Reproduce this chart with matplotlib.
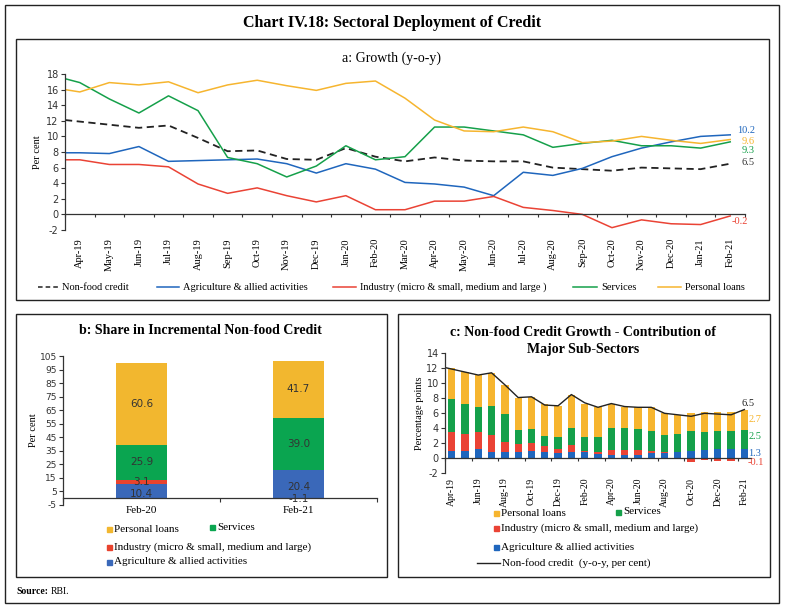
import numpy as np
import matplotlib
matplotlib.use('Agg')
import matplotlib.pyplot as plt
from matplotlib.patches import Rectangle
from matplotlib.lines import Line2D

# ---- data ----
months = ['Apr-19', 'May-19', 'Jun-19', 'Jul-19', 'Aug-19', 'Sep-19', 'Oct-19', 'Nov-19',
          'Dec-19', 'Jan-20', 'Feb-20', 'Mar-20', 'Apr-20', 'May-20', 'Jun-20', 'Jul-20',
          'Aug-20', 'Sep-20', 'Oct-20', 'Nov-20', 'Dec-20', 'Jan-21', 'Feb-21']

# panel a: y-o-y growth (first value sits on the axis edge, then one per month)
nonfood_start = 12.1
nonfood = [11.9, 11.5, 11.1, 11.4, 9.8, 8.1, 8.2, 7.1, 7.0, 8.5, 7.4, 6.8,
           7.3, 6.9, 6.8, 6.8, 6.0, 5.8, 5.6, 6.0, 5.9, 5.8, 6.5]
agri_start = 7.9
agri = [7.9, 7.8, 8.7, 6.8, 6.9, 7.0, 7.1, 6.5, 5.3, 6.5, 5.8, 4.1,
        3.9, 3.5, 2.4, 5.4, 5.0, 5.9, 7.4, 8.5, 9.3, 10.0, 10.2]
industry_start = 7.0
industry = [7.0, 6.4, 6.4, 6.1, 3.9, 2.7, 3.4, 2.4, 1.6, 2.4, 0.6, 0.6,
            1.7, 1.7, 2.3, 0.9, 0.5, 0.0, -1.7, -0.7, -1.2, -1.3, -0.2]
services_start = 17.4
services = [16.9, 14.8, 13.0, 15.2, 13.3, 7.3, 6.5, 4.8, 6.2, 8.8, 7.0, 7.4,
            11.2, 11.2, 10.7, 10.2, 8.6, 9.1, 9.5, 8.8, 8.8, 8.5, 9.3]
personal_start = 16.0
personal = [15.7, 16.9, 16.6, 17.0, 15.6, 16.6, 17.2, 16.5, 15.9, 16.8, 17.1, 14.9,
            12.1, 10.7, 10.6, 11.2, 10.6, 9.2, 9.4, 10.0, 9.5, 9.1, 9.6]

# panel b: share in incremental non-food credit
b_cats = ['Feb-20', 'Feb-21']
b_agri = [10.4, 20.4]
b_ind = [3.1, -1.1]
b_serv = [25.9, 39.0]
b_pers = [60.6, 41.7]

# panel c: contribution to non-food credit growth
c_agri = [1.0, 1.0, 1.2, 0.9, 0.9, 0.9, 1.0, 0.8, 0.7, 0.8, 0.8, 0.6,
          0.5, 0.5, 0.4, 0.7, 0.65, 0.8, 1.0, 1.1, 1.2, 1.3, 1.3]
c_ind = [2.5, 2.3, 2.3, 2.2, 1.3, 1.0, 1.1, 0.8, 0.5, 1.0, 0.2, 0.2,
         0.6, 0.6, 0.7, 0.3, 0.2, 0.0, -0.5, -0.2, -0.3, -0.3, -0.1]
c_serv = [4.4, 3.9, 3.3, 3.9, 3.7, 1.9, 1.8, 1.4, 1.7, 2.3, 1.9, 2.1,
          3.0, 2.9, 2.8, 2.7, 2.25, 2.5, 2.6, 2.4, 2.4, 2.3, 2.5]
c_pers = [4.1, 4.3, 4.3, 4.4, 3.9, 4.3, 4.3, 4.2, 4.1, 4.4, 4.4, 3.9,
          3.2, 2.9, 2.9, 3.1, 2.9, 2.5, 2.5, 2.7, 2.6, 2.6, 2.7]

# ---- style ----
SERIF = 'Liberation Serif'
SANS = 'DejaVu Sans'
C_BLUE = '#1f66bd'
C_RED = '#ea4335'
C_GREEN = '#15a04a'
C_YELLOW = '#f6b52f'
B_BLUE = '#3a68b9'
B_RED = '#e8432e'
B_GREEN = '#0aa550'
B_YELLOW = '#f2b72f'
plt.rcParams['font.family'] = SERIF
plt.rcParams['axes.unicode_minus'] = False

W, H = 785, 608
fig = plt.figure(figsize=(W / 100, H / 100), dpi=100)


def fx(px):
    return px / W


def fy(py):
    return 1 - py / H


def box(x0, y0, x1, y1, lw=1.0):
    fig.patches.append(Rectangle((fx(x0), fy(y1)), fx(x1) - fx(x0), fy(y0) - fy(y1),
                                 transform=fig.transFigure, fill=False,
                                 edgecolor='#222222', linewidth=lw))


def style_axes(ax, ytick_font=7):
    for s in ['top', 'right']:
        ax.spines[s].set_visible(False)
    ax.spines['bottom'].set_position(('data', 0))
    for s in ['left', 'bottom']:
        ax.spines[s].set_color('#333333')
        ax.spines[s].set_linewidth(0.9)
    ax.tick_params(axis='y', direction='out', length=3, width=0.8, colors='#333333',
                   labelsize=ytick_font, pad=1.5)
    for t in ax.get_yticklabels():
        t.set_fontfamily(SANS)


def fig_line(x0, x1, y, **kw):
    fig.lines.append(Line2D([fx(x0), fx(x1)], [fy(y), fy(y)], transform=fig.transFigure, **kw))


# frames
box(5, 5, 779, 603)
box(16, 39, 769, 300)
box(16, 314, 387, 577)
box(398, 314, 770, 577)

fig.text(fx(392), fy(23), 'Chart IV.18: Sectoral Deployment of Credit', ha='center', va='center',
         fontsize=11.5, fontweight='bold')
fig.text(fx(16), fy(591), 'Source:', ha='left', va='center', fontsize=7, fontweight='bold')
fig.text(fx(51), fy(591), 'RBI.', ha='left', va='center', fontsize=7)

# ---- panel a ----
ax = fig.add_axes([fx(65), fy(230), fx(745) - fx(65), fy(74) - fy(230)])
x = np.arange(len(months))
xs = np.concatenate([[-0.5], x])
ax.plot(xs, [nonfood_start] + nonfood, color='#222222', lw=1.3, ls=(0, (4, 2.5)))
ax.plot(xs, [agri_start] + agri, color=C_BLUE, lw=1.1)
ax.plot(xs, [industry_start] + industry, color=C_RED, lw=1.1)
ax.plot(xs, [services_start] + services, color=C_GREEN, lw=1.1)
ax.plot(xs, [personal_start] + personal, color=C_YELLOW, lw=1.1)
ax.set_xlim(-0.5, len(months) - 0.5)
ax.set_ylim(-2, 18)
ax.set_yticks(np.arange(-2, 19, 2))
style_axes(ax)
ax.set_xticks(np.arange(-0.5, len(months), 1))
ax.set_xticklabels([])
ax.set_xticks(x, minor=True)
ax.set_xticklabels(months, minor=True, rotation=90, fontsize=7.5)
ax.tick_params(axis='x', which='major', direction='out', length=2.5, width=0.8, color='#333333')
ax.tick_params(axis='x', which='minor', length=0, pad=17)
ax.set_ylabel('Per cent', fontsize=7.5, labelpad=3)
fig.text(fx(392), fy(58), 'a: Growth (y-o-y)', ha='center', va='center', fontsize=10)

end_labels = [(agri[-1], C_BLUE, 0.5, 5), (personal[-1], C_YELLOW, -0.2, 8),
              (services[-1], C_GREEN, -1.1, 8), (nonfood[-1], '#333333', 0.1, 8),
              (industry[-1], C_RED, -0.75, 1)]
for val, col, dy, dx in end_labels:
    ax.annotate(f'{val:.1f}', (len(months) - 1, val + dy), xytext=(dx, 0), textcoords='offset points',
                color=col, fontsize=7.5, va='center', ha='left', annotation_clip=False)

# legend a
leg_a = [(38, 58, dict(color='#222222', lw=1.1, ls=(0, (3, 2))), 'Non-food credit'),
         (157, 179, dict(color=C_BLUE, lw=1.1), 'Agriculture & allied activities'),
         (333, 356, dict(color=C_RED, lw=1.1), 'Industry (micro & small, medium and large )'),
         (573, 597, dict(color=C_GREEN, lw=1.1), 'Services'),
         (658, 681, dict(color=C_YELLOW, lw=1.1), 'Personal loans')]
for x0, x1, kw, label in leg_a:
    fig_line(x0, x1, 287, **kw)
    fig.text(fx(x1 + 4), fy(287), label, ha='left', va='center', fontsize=7.5)

# ---- panel b ----
axb = fig.add_axes([fx(63), fy(504.7), fx(377) - fx(63), fy(356) - fy(504.7)])
bx = np.arange(len(b_cats))
bw = 0.325
b_ind_pos = np.clip(b_ind, 0, None)
b_ind_neg = np.clip(b_ind, None, 0)
axb.bar(bx, b_agri, bw, color=B_BLUE)
axb.bar(bx, b_ind_pos, bw, bottom=b_agri, color=B_RED)
axb.bar(bx, b_ind_neg, bw, color=B_RED)
b_serv_bot = np.array(b_agri) + b_ind_pos
axb.bar(bx, b_serv, bw, bottom=b_serv_bot, color=B_GREEN)
b_pers_bot = b_serv_bot + np.array(b_serv)
axb.bar(bx, b_pers, bw, bottom=b_pers_bot, color=B_YELLOW)
for i in range(len(b_cats)):
    ys = [(b_agri[i] / 2 - 2, b_agri[i]),
          ((b_agri[i] + b_ind_pos[i] / 2) if b_ind[i] > 0 else b_ind[i] / 2, b_ind[i]),
          (b_serv_bot[i] + b_serv[i] / 2, b_serv[i]),
          (b_pers_bot[i] + b_pers[i] / 2, b_pers[i])]
    for yv, val in ys:
        axb.text(bx[i], yv, f'{val:.1f}', ha='center', va='center', fontsize=7.5,
                 color='#333333', family=SANS)
axb.set_xlim(-0.5, 1.5)
axb.set_ylim(-5, 105)
axb.set_yticks(np.arange(-5, 106, 10))
style_axes(axb, ytick_font=6.5)
axb.set_xticks([-0.5, 0.5, 1.5])
axb.set_xticklabels([])
axb.set_xticks(bx, minor=True)
axb.set_xticklabels(b_cats, minor=True, fontsize=8)
axb.tick_params(axis='x', which='major', direction='out', length=3, width=0.8, color='#333333')
axb.tick_params(axis='x', which='minor', length=0, pad=6)
axb.set_ylabel('Per cent', fontsize=7.5, labelpad=1)
fig.text(fx(200), fy(331), 'b: Share in Incremental Non-food Credit', ha='center', va='center',
         fontsize=10, fontweight='bold')


def sq_legend(items, size=5):
    for px, py, col, label in items:
        fig.patches.append(Rectangle((fx(px), fy(py + size / 2)), size / W, size / H,
                                     transform=fig.transFigure, color=col))
        fig.text(fx(px + size + 2), fy(py), label, ha='left', va='center', fontsize=8)


sq_legend([(107, 529, B_YELLOW, 'Personal loans'),
           (210, 527, B_GREEN, 'Services'),
           (107, 547, B_RED, 'Industry (micro & small, medium and large)'),
           (107, 562, B_BLUE, 'Agriculture & allied activities')])

# ---- panel c ----
axc = fig.add_axes([fx(445), fy(473.3), fx(751) - fx(445), fy(353.3) - fy(473.3)])
cw = 0.55
c_ind_pos = np.clip(c_ind, 0, None)
c_ind_neg = np.clip(c_ind, None, 0)
axc.bar(x, c_agri, cw, color=C_BLUE)
axc.bar(x, c_ind_pos, cw, bottom=c_agri, color=C_RED)
axc.bar(x, c_ind_neg, cw, color=C_RED)
c_serv_bot = np.array(c_agri) + c_ind_pos
axc.bar(x, c_serv, cw, bottom=c_serv_bot, color=C_GREEN)
c_pers_bot = c_serv_bot + np.array(c_serv)
axc.bar(x, c_pers, cw, bottom=c_pers_bot, color=C_YELLOW)
axc.plot(xs, [nonfood_start] + nonfood, color='#222222', lw=1.0)
axc.set_xlim(-0.5, len(months) - 0.5)
axc.set_ylim(-2, 14)
axc.set_yticks(np.arange(-2, 15, 2))
style_axes(axc, ytick_font=7)
axc.set_xticks(np.arange(-0.5, len(months), 2))
axc.set_xticklabels([])
axc.set_xticks(x[::2], minor=True)
axc.set_xticklabels(months[::2], minor=True, rotation=90, fontsize=7)
axc.tick_params(axis='x', which='major', direction='out', length=2.5, width=0.8, color='#333333')
axc.tick_params(axis='x', which='minor', length=0, pad=14)
axc.set_ylabel('Percentage points', fontsize=7.5, labelpad=2)
fig.text(fx(583), fy(332), 'c: Non-food Credit Growth - Contribution of', ha='center', va='center',
         fontsize=10, fontweight='bold')
fig.text(fx(583), fy(350), 'Major Sub-Sectors', ha='center', va='center',
         fontsize=10, fontweight='bold')

last = len(months) - 1
c_end = [(nonfood[-1], nonfood[-1] + 0.8, '#222222', -2),
         (c_pers[-1], c_pers_bot[-1] + c_pers[-1] / 2, C_YELLOW, 3),
         (c_serv[-1], c_serv_bot[-1] + c_serv[-1] / 2 + 0.3, C_GREEN, 3),
         (c_agri[-1], c_agri[-1] / 2, C_BLUE, 3),
         (c_ind[-1], -0.6, C_RED, 2)]
for val, yv, col, dx in c_end:
    axc.annotate(f'{val:.1f}', (last, yv), xytext=(dx, 0), textcoords='offset points',
                 color=col, fontsize=7.5, va='center', ha='left', annotation_clip=False)

sq_legend([(494, 513, C_YELLOW, 'Personal loans'),
           (616, 512, C_GREEN, 'Services'),
           (494, 528, C_RED, 'Industry (micro & small, medium and large)'),
           (494, 547, C_BLUE, 'Agriculture & allied activities')])
fig_line(477, 500, 563, color='#222222', lw=1.0)
fig.text(fx(502), fy(563), 'Non-food credit  (y-o-y, per cent)', ha='left', va='center', fontsize=8)

fig.savefig('out.png', dpi=100)
